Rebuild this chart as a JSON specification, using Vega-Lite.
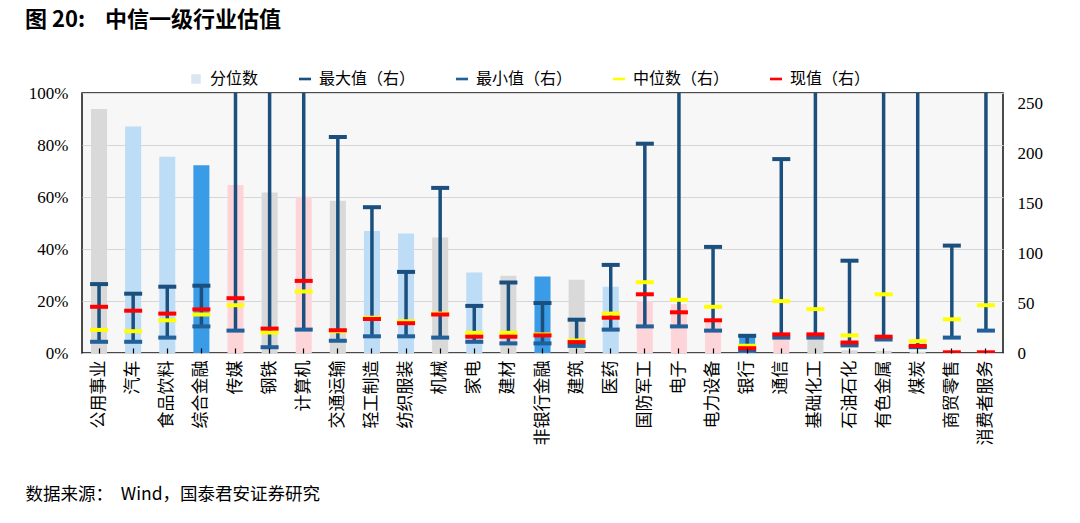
{
  "$schema": "https://vega.github.io/schema/vega-lite/v6.json",
  "width": 921,
  "height": 260,
  "autosize": {"type": "none"},
  "padding": {"left": 82, "top": 93, "right": 77, "bottom": 170},
  "background": "white",
  "title": {
    "text": "图 20:\u00a0\u00a0\u00a0\u00a0中信一级行业估值",
    "anchor": "start",
    "frame": "group",
    "dx": -57,
    "offset": 39,
    "font": "Noto Sans CJK SC",
    "fontSize": 22,
    "fontWeight": "bold",
    "color": "#000"
  },
  "config": {
    "view": {"stroke": "#111", "strokeWidth": 1.5, "fill": "#f7f7f7"},
    "font": "Noto Sans CJK SC"
  },
  "data": {
    "values": [
      {"cat": "公用事业", "pct": 0.938, "g": "grey", "max": 68.9, "min": 11.2, "median": 23.1, "current": 46.2},
      {"cat": "汽车", "pct": 0.871, "g": "lightblue", "max": 59.3, "min": 11.2, "median": 21.8, "current": 42.3},
      {"cat": "食品饮料", "pct": 0.755, "g": "lightblue", "max": 66.3, "min": 15.4, "median": 32.7, "current": 39.4},
      {"cat": "综合金融", "pct": 0.722, "g": "blue", "max": 67.3, "min": 26.6, "median": 38.5, "current": 43.6},
      {"cat": "传媒", "pct": 0.646, "g": "pink", "max": 300, "min": 22.4, "median": 47.8, "current": 54.8},
      {"cat": "钢铁", "pct": 0.617, "g": "grey", "max": 300, "min": 5.8, "median": 20.5, "current": 24.4},
      {"cat": "计算机", "pct": 0.601, "g": "pink", "max": 300, "min": 23.4, "median": 61.5, "current": 72.1},
      {"cat": "交通运输", "pct": 0.586, "g": "grey", "max": 216, "min": 12.2, "median": 21.8, "current": 22.8},
      {"cat": "轻工制造", "pct": 0.469, "g": "lightblue", "max": 145.8, "min": 16.7, "median": 35.3, "current": 34.0},
      {"cat": "纺织服装", "pct": 0.46, "g": "lightblue", "max": 81.1, "min": 16.7, "median": 31.7, "current": 29.8},
      {"cat": "机械", "pct": 0.444, "g": "grey", "max": 165.1, "min": 15.4, "median": 39.4, "current": 38.5},
      {"cat": "家电", "pct": 0.31, "g": "lightblue", "max": 47.1, "min": 11.2, "median": 20.2, "current": 16.3},
      {"cat": "建材", "pct": 0.297, "g": "grey", "max": 70.5, "min": 9.6, "median": 20.2, "current": 16.3},
      {"cat": "非银行金融", "pct": 0.294, "g": "blue", "max": 50, "min": 9.6, "median": 18.6, "current": 17.6},
      {"cat": "建筑", "pct": 0.282, "g": "grey", "max": 33.3, "min": 7.1, "median": 12.5, "current": 10.9},
      {"cat": "医药", "pct": 0.255, "g": "lightblue", "max": 88.1, "min": 23.4, "median": 39.4, "current": 35.3},
      {"cat": "国防军工", "pct": 0.199, "g": "pink", "max": 209.3, "min": 26.6, "median": 70.8, "current": 58.7},
      {"cat": "电子", "pct": 0.188, "g": "pink", "max": 300, "min": 26.6, "median": 53.2, "current": 40.7},
      {"cat": "电力设备", "pct": 0.122, "g": "pink", "max": 106.1, "min": 22.4, "median": 46.2, "current": 32.7},
      {"cat": "银行", "pct": 0.069, "g": "blue", "max": 17.2, "min": 2.4, "median": 7.3, "current": 4.8},
      {"cat": "通信", "pct": 0.062, "g": "pink", "max": 193.9, "min": 15.4, "median": 51.9, "current": 18.6},
      {"cat": "基础化工", "pct": 0.058, "g": "grey", "max": 300, "min": 15.4, "median": 43.9, "current": 18.6},
      {"cat": "石油石化", "pct": 0.01, "g": "grey", "max": 92.3, "min": 7.6, "median": 17.6, "current": 10.5},
      {"cat": "有色金属", "pct": 0.008, "g": "grey", "max": 300, "min": 13.5, "median": 58.7, "current": 16.3},
      {"cat": "煤炭", "pct": 0.005, "g": "grey", "max": 300, "min": 5.8, "median": 11.9, "current": 7.1},
      {"cat": "商贸零售", "pct": 0, "g": "grey", "max": 107.4, "min": 15.4, "median": 33.7, "current": 0.7},
      {"cat": "消费者服务", "pct": 0, "g": "grey", "max": 300, "min": 22.4, "median": 47.8, "current": 0.7}
    ]
  },
  "encoding": {
    "x": {
      "field": "cat",
      "type": "nominal",
      "sort": null,
      "scale": {"paddingInner": 0, "paddingOuter": 0},
      "axis": {
        "title": "数据来源：\u00a0\u00a0Wind，国泰君安证券研究",
        "titleX": -57,
        "titleY": 141,
        "titleAlign": "left",
        "titleBaseline": "middle",
        "titleAnchor": null,
        "titleFont": "Noto Sans CJK SC",
        "titleFontSize": 17.5,
        "titleFontWeight": "normal",
        "titleColor": "#000",
        "labelAngle": -90,
        "labelFont": "Noto Sans CJK SC",
        "labelFontSize": 17,
        "labelColor": "#000",
        "labelPadding": 12,
        "domain": false,
        "ticks": true,
        "tickSize": -5,
        "tickWidth": 1.2,
        "tickColor": "#000",
        "grid": false,
        "zindex": 1
      }
    }
  },
  "layer": [
    {
      "mark": {"type": "bar", "width": {"band": 0.47}},
      "encoding": {
        "y": {
          "field": "pct",
          "type": "quantitative",
          "scale": {"domain": [0, 1]},
          "axis": {
            "orient": "left",
            "title": null,
            "format": ".0%",
            "values": [0, 0.2, 0.4, 0.6, 0.8, 1],
            "grid": true,
            "gridColor": "#d6d6d6",
            "ticks": false,
            "domain": false,
            "labelFont": "Liberation Serif",
            "labelFontSize": 17,
            "labelColor": "#000",
            "labelPadding": 14
          }
        },
        "fill": {
          "field": "g",
          "type": "nominal",
          "scale": {"domain": ["grey", "lightblue", "blue", "pink"], "range": ["#d9d9d9", "#bddcf5", "#3a9be6", "#fdd5d9"]},
          "legend": null
        }
      }
    },
    {
      "layer": [
        {
          "mark": {"type": "rule", "clip": true, "color": "#1b4f7d", "strokeWidth": 3.5},
          "encoding": {
            "y": {
              "field": "min",
              "type": "quantitative",
              "scale": {"domain": [0, 250]},
              "axis": {
                "orient": "right",
                "title": null,
                "values": [0, 50, 100, 150, 200, 250],
                "grid": false,
                "ticks": false,
                "domain": false,
                "labelFont": "Liberation Serif",
                "labelFontSize": 17,
                "labelColor": "#000",
                "labelPadding": 14
              }
            },
            "y2": {"field": "max"}
          }
        },
        {
          "transform": [{"fold": ["max", "min", "median", "current"], "as": ["series", "v"]}],
          "mark": {"type": "tick", "clip": true, "thickness": 4, "size": 18, "opacity": 1},
          "encoding": {
            "y": {
              "field": "v",
              "type": "quantitative",
              "axis": {
                "orient": "right",
                "title": null,
                "values": [0, 50, 100, 150, 200, 250],
                "grid": false,
                "ticks": false,
                "domain": false,
                "labelFont": "Liberation Serif",
                "labelFontSize": 17,
                "labelColor": "#000",
                "labelPadding": 14
              }
            },
            "color": {
              "field": "series",
              "type": "nominal",
              "scale": {
                "domain": ["pct", "max", "min", "median", "current"],
                "range": ["#dce6f2", "#1b4f7d", "#22609a", "#ffff00", "#ff0000"]
              },
              "legend": {
                "orient": "none",
                "legendX": 106,
                "legendY": -22,
                "direction": "horizontal",
                "columns": 5,
                "title": null,
                "labelFont": "Noto Sans CJK SC",
                "labelFontSize": 16,
                "labelColor": "#000",
                "labelOffset": 6,
                "columnPadding": 38,
                "symbolSize": 144,
                "symbolOpacity": 1,
                "symbolStrokeWidth": 0,
                "symbolType": "M-1,-0.22H1V0.22H-1Z",
                "labelExpr": "datum.label == 'pct' ? '分位数' : datum.label == 'max' ? '最大值（右）' : datum.label == 'min' ? '最小值（右）' : datum.label == 'median' ? '中位数（右）' : '现值（右）'",
                "encode": {
                  "symbols": {
                    "enter": {
                      "shape": {"signal": "datum.value == 'pct' ? 'M-0.8,-0.8H0.8V0.8H-0.8Z' : 'M-1,-0.22H1V0.22H-1Z'"}
                    },
                    "update": {
                      "shape": {"signal": "datum.value == 'pct' ? 'M-0.8,-0.8H0.8V0.8H-0.8Z' : 'M-1,-0.22H1V0.22H-1Z'"},
                      "opacity": {"value": 1}
                    }
                  }
                }
              }
            }
          }
        }
      ]
    }
  ],
  "resolve": {"scale": {"y": "independent"}}
}
